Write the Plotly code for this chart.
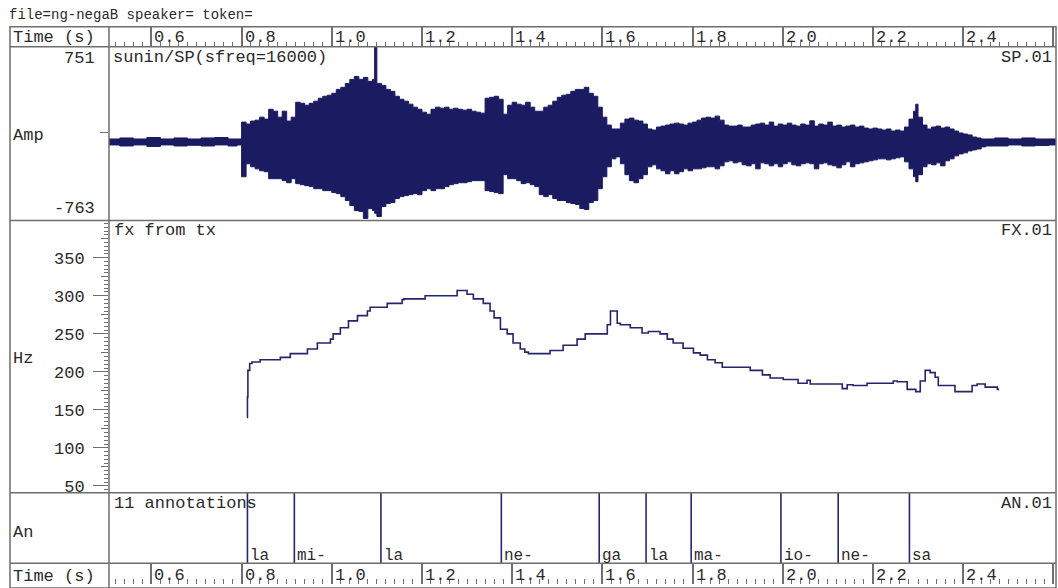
import plotly.graph_objects as go

# ---------------- data ----------------
title_text = "file=ng-negaB speaker= token="
time_ticks = [0.6, 0.8, 1.0, 1.2, 1.4, 1.6, 1.8, 2.0, 2.2, 2.4]
time_labels = ["0.6", "0.8", "1.0", "1.2", "1.4", "1.6", "1.8", "2.0", "2.2", "2.4"]
time_range = [0.506, 2.606]

# waveform envelope (s, amplitude)
wave_t = [0.506, 0.53, 0.56, 0.59, 0.62, 0.65, 0.68, 0.71, 0.74, 0.77, 0.79,
          0.80, 0.81, 0.82, 0.83, 0.84, 0.85, 0.86, 0.87, 0.88, 0.89,
          0.90, 0.91, 0.92, 0.93, 0.94, 0.95, 0.96, 0.97, 0.98, 0.99,
          1.00, 1.01, 1.02, 1.03, 1.04, 1.05, 1.06, 1.07, 1.08, 1.09, 1.095,
          1.10, 1.11, 1.12, 1.13, 1.14, 1.15, 1.16, 1.17, 1.18, 1.19,
          1.20, 1.21, 1.22, 1.23, 1.24, 1.25, 1.26, 1.27, 1.28, 1.29,
          1.30, 1.31, 1.32, 1.33, 1.34, 1.35, 1.36, 1.37, 1.38, 1.39,
          1.40, 1.41, 1.42, 1.43, 1.44, 1.45, 1.46, 1.47, 1.48, 1.49,
          1.50, 1.51, 1.52, 1.53, 1.54, 1.55, 1.56, 1.57, 1.58, 1.59,
          1.60, 1.61, 1.62, 1.63, 1.64, 1.65, 1.66, 1.67, 1.68, 1.69,
          1.70, 1.71, 1.72, 1.73, 1.74, 1.75, 1.76, 1.77, 1.78, 1.79,
          1.80, 1.81, 1.82, 1.83, 1.84, 1.85, 1.86, 1.87, 1.88, 1.89,
          1.90, 1.91, 1.92, 1.93, 1.94, 1.95, 1.96, 1.97, 1.98, 1.99,
          2.00, 2.01, 2.02, 2.03, 2.04, 2.05, 2.06, 2.07, 2.08, 2.09,
          2.10, 2.11, 2.12, 2.13, 2.14, 2.15, 2.16, 2.17, 2.18, 2.19,
          2.20, 2.21, 2.22, 2.23, 2.24, 2.25, 2.26, 2.27, 2.28, 2.29, 2.295,
          2.30, 2.31, 2.32, 2.33, 2.34, 2.35, 2.36, 2.37, 2.38, 2.39,
          2.40, 2.41, 2.42, 2.43, 2.44, 2.45, 2.47, 2.50, 2.53, 2.56, 2.59, 2.606]
wave_top = [-53, -44, -53, -40, -53, -44, -53, -44, -40, -53, -53,
            94, 77, 103, 111, 137, 120, 206, 189, 137, 189,
            103, 137, 267, 258, 241, 258, 276, 302, 319, 328,
            345, 379, 397, 431, 466, 492, 466, 483, 449, 466, 751,
            431, 414, 379, 362, 319, 293, 276, 250, 224, 206,
            180, 163, 206, 224, 215, 224, 206, 215, 206, 198,
            206, 189, 180, 172, 302, 310, 319, 293, 163, 241,
            267, 250, 241, 267, 224, 189, 189, 224, 241, 276,
            310, 328, 336, 362, 379, 379, 397, 345, 319, 224,
            137, 68, 34, 34, 85, 120, 129, 111, 103, 77,
            34, 25, 51, 59, 68, 77, 85, 77, 68, 85,
            94, 111, 129, 137, 129, 146, 111, 68, 59, 59,
            68, 51, 51, 68, 77, 85, 68, 94, 59, 77,
            68, 85, 68, 59, 77, 68, 105, 59, 77, 68,
            94, 59, 68, 51, 59, 68, 51, 59, 42, 34,
            42, 34, 25, 34, 16, 25, 16, 51, 120, 189, 250,
            137, 68, 34, 51, 59, 42, 51, 34, 16, -1,
            -10, -18, -36, -44, -53, -53, -44, -53, -44, -53, -53, -53]
wave_bot = [-105, -114, -105, -118, -105, -114, -108, -114, -105, -114, -105,
            -382, -269, -295, -313, -330, -338, -399, -399, -399, -416,
            -434, -399, -442, -451, -460, -468, -486, -486, -503, -503,
            -520, -529, -555, -589, -633, -676, -684, -745, -659, -676, -700,
            -728, -641, -615, -607, -572, -555, -546, -538, -529, -538,
            -503, -486, -503, -486, -486, -468, -451, -442, -434, -434,
            -425, -416, -416, -416, -503, -511, -520, -529, -364, -399,
            -399, -416, -442, -434, -451, -468, -538, -555, -538, -572,
            -589, -589, -607, -615, -624, -659, -667, -607, -589, -486,
            -382, -295, -226, -209, -269, -364, -416, -434, -399, -364,
            -295, -278, -313, -330, -356, -330, -356, -338, -313, -330,
            -313, -313, -304, -295, -295, -313, -287, -252, -243, -261,
            -252, -278, -287, -269, -313, -261, -269, -287, -269, -295,
            -269, -252, -278, -287, -269, -261, -269, -313, -269, -261,
            -278, -287, -304, -278, -252, -295, -269, -261, -252, -243,
            -235, -226, -226, -235, -226, -217, -209, -252, -313, -382, -425,
            -364, -295, -269, -278, -261, -287, -243, -226, -200, -183,
            -174, -157, -148, -140, -122, -114, -114, -105, -114, -110, -105, -105]

# fundamental frequency (s, Hz)
f0_t = [0.812, 0.813, 0.814, 0.818, 0.823, 0.841, 0.886, 0.908, 0.946, 0.968,
        0.997, 1.003, 1.019, 1.037, 1.057, 1.079, 1.085, 1.123, 1.156, 1.160,
        1.207, 1.278, 1.300, 1.314, 1.336, 1.351, 1.360, 1.374, 1.389, 1.402,
        1.418, 1.428, 1.436, 1.484, 1.513, 1.544, 1.562, 1.611, 1.618, 1.633,
        1.640, 1.662, 1.688, 1.702, 1.728, 1.744, 1.757, 1.779, 1.802, 1.817,
        1.833, 1.850, 1.866, 1.928, 1.955, 1.972, 2.001, 2.034, 2.054, 2.061,
        2.132, 2.143, 2.156, 2.187, 2.245, 2.254, 2.276, 2.295, 2.305, 2.316,
        2.327, 2.338, 2.345, 2.382, 2.420, 2.431, 2.449, 2.476, 2.480]
f0_hz = [140, 167, 202, 211, 213, 216, 219, 224, 230, 238,
         243, 250, 258, 267, 274, 280, 285, 290, 295, 296,
         300, 307, 302, 296, 290, 280, 271, 256, 250, 238,
         230, 226, 224, 228, 235, 243, 250, 262, 280, 264,
         262, 258, 251, 253, 250, 243, 238, 231, 225, 222,
         216, 212, 206, 202, 196, 192, 190, 185, 189, 184,
         178, 183, 182, 185, 188, 187, 177, 174, 188, 202,
         199, 193, 182, 174, 182, 184, 180, 177, 177]
hz_ticks = [50, 100, 150, 200, 250, 300, 350]
hz_labels = ["50", "100", "150", "200", "250", "300", "350"]
hz_mid_ticks = [75, 125, 175, 225, 275, 325, 375]
hz_range = [41.25, 399]
amp_range = [-763, 751]

# annotations (segment start times, s)
seg_t = [0.813, 0.917, 1.109, 1.376, 1.593, 1.697, 1.797, 1.996, 2.123, 2.281]
seg_labels = ["la", "mi-", "la", "ne-", "ga", "la", "ma-", "io-", "ne-", "sa"]

# ---------------- style ----------------
W, H = 1058, 588
FONT = "Liberation Mono"
FS = 17
TXT = "#2a2a2a"
FRAME = "#6e6e6e"
NAVY = "#1b1b62"


def px(p):
    return p / W


def py(p):
    return 1 - p / H


x_dom = [px(109), px(1056)]
dom_ruler_top = [py(47), py(27)]
dom_sp = [py(222), py(47)]
dom_fx = [py(496), py(222)]
dom_an = [py(567), py(496)]
dom_ruler_bot = [0, py(567)]

fig = go.Figure()

# waveform envelope
fig.add_trace(go.Scatter(x=wave_t, y=wave_top, mode="lines", line=dict(color=NAVY, width=1, shape="hv"),
                         xaxis="x", yaxis="y", hoverinfo="skip"))
fig.add_trace(go.Scatter(x=wave_t, y=wave_bot, mode="lines", line=dict(color=NAVY, width=1, shape="hv"),
                         fill="tonexty", fillcolor=NAVY, xaxis="x", yaxis="y", hoverinfo="skip"))

# F0
fig.add_trace(go.Scatter(x=f0_t, y=f0_hz, mode="lines", line=dict(color="#25256e", width=1.6, shape="hv"),
                         xaxis="x2", yaxis="y2", hoverinfo="skip"))
fig.add_trace(go.Scatter(x=[None], y=[None], xaxis="x2", yaxis="y6", hoverinfo="skip"))

# annotation boundaries
bx, by = [], []
for t in seg_t:
    bx += [t, t, None]
    by += [0, 1, None]
fig.add_trace(go.Scatter(x=bx, y=by, mode="lines", line=dict(color="#26267a", width=1.6),
                         xaxis="x3", yaxis="y3", hoverinfo="skip"))

hidden_x = dict(domain=x_dom, range=time_range, showgrid=False, zeroline=False, showticklabels=False,
                ticks="", showline=False)
ruler_x = dict(domain=x_dom, range=time_range, showgrid=True, gridcolor=FRAME, gridwidth=1.5,
               dtick=0.2, tick0=0, ticks="inside", ticklen=5, tickcolor=FRAME, tickwidth=1,
               showticklabels=False, zeroline=False, showline=False,
               minor=dict(dtick=0.02, tick0=0, ticks="inside", ticklen=5, tickcolor=FRAME,
                          tickwidth=1, showgrid=False))
plain_y = dict(range=[0, 1], showgrid=False, zeroline=False, showticklabels=False, ticks="", showline=False)

fig.update_layout(
    width=W, height=H, margin=dict(l=0, r=0, t=0, b=0),
    paper_bgcolor="white", plot_bgcolor="white", showlegend=False,
    font=dict(family=FONT, size=FS, color=TXT),
    xaxis=dict(hidden_x, anchor="y"),
    xaxis2=dict(hidden_x, anchor="y2"),
    xaxis3=dict(hidden_x, anchor="y3"),
    xaxis4=dict(ruler_x, anchor="y4", side="bottom"),
    xaxis5=dict(ruler_x, anchor="y5", side="bottom"),
    yaxis=dict(domain=dom_sp, range=amp_range, showgrid=False, zeroline=False, showline=False,
               tickvals=[0], ticks="outside", ticklen=8, tickcolor=FRAME, showticklabels=False, anchor="x"),
    yaxis2=dict(domain=dom_fx, range=hz_range, showgrid=False, zeroline=False, showline=False,
                tickvals=hz_ticks, ticktext=hz_labels, ticks="outside", ticklen=15, tickcolor=FRAME,
                tickwidth=1, ticklabelstandoff=5, tickfont=dict(family=FONT, size=FS, color=TXT),
                minor=dict(dtick=5, tick0=0, ticks="outside", ticklen=4, tickcolor=FRAME, tickwidth=1,
                           showgrid=False),
                anchor="x2"),
    yaxis6=dict(domain=dom_fx, range=hz_range, overlaying="y2", side="left", anchor="x2",
                showgrid=False, zeroline=False, showline=False, tickvals=hz_mid_ticks,
                ticks="outside", ticklen=7, tickcolor=FRAME, tickwidth=1, showticklabels=False),
    yaxis3=dict(plain_y, domain=dom_an, anchor="x3"),
    yaxis4=dict(plain_y, domain=dom_ruler_top, anchor="x4"),
    yaxis5=dict(plain_y, domain=dom_ruler_bot, anchor="x5"),
)

# frame
shapes = [dict(type="rect", xref="paper", yref="paper", x0=px(10), x1=px(1056), y0=py(592), y1=py(27),
               line=dict(color=FRAME, width=1.5))]
for yy in [47, 222, 496, 567]:
    shapes.append(dict(type="line", xref="paper", yref="paper", x0=px(10), x1=px(1056), y0=py(yy), y1=py(yy),
                       line=dict(color=FRAME, width=1.5)))
shapes.append(dict(type="line", xref="paper", yref="paper", x0=px(109), x1=px(109), y0=py(592), y1=py(27),
                   line=dict(color=FRAME, width=1.5)))
fig.update_layout(shapes=shapes)

ann = []


def label(text, x, y, xa="left", ya="middle", size=FS, xref="paper", yref="paper", xshift=0, yshift=0):
    ann.append(dict(text=text, x=x, y=y, xref=xref, yref=yref, xanchor=xa, yanchor=ya, showarrow=False,
                    font=dict(family=FONT, size=size, color=TXT), xshift=xshift, yshift=yshift,
                    borderpad=0))


label(title_text, px(8), py(15), size=14)
label("Time (s)", px(12), py(37), yshift=-1)
label("Time (s)", px(12), py(578), yshift=-2)
for v, s in zip(time_ticks, time_labels):
    label(s, v, py(27), xa="left", ya="top", xref="x4", xshift=2)
    label(s, v, py(567), xa="left", ya="top", xref="x5", xshift=2, yshift=-2)

label("Amp", px(12), py(134), yshift=-2)
label("Hz", px(12), py(358), yshift=-3)
label("An", px(12), py(533), yshift=-3)
label(str(amp_range[1]), px(96), amp_range[1], xa="right", ya="top", yref="y", yshift=-1)
label(str(amp_range[0]), px(96), amp_range[0], xa="right", ya="bottom", yref="y", yshift=1)

label("sunin/SP(sfreq=16000)", px(112), py(47), ya="top")
label("SP.01", px(1053), py(47), xa="right", ya="top")
label("fx from tx", px(113), py(222), ya="top")
label("FX.01", px(1053), py(222), xa="right", ya="top")
label("%d annotations" % (len(seg_t) + 1), px(113), py(496), ya="top")
label("AN.01", px(1053), py(496), xa="right", ya="top")

for t, s in zip(seg_t, seg_labels):
    label(s, t, 0, xa="left", ya="bottom", xref="x3", yref="y3", xshift=2, yshift=-3, size=FS - 1)

fig.update_layout(annotations=ann)

fig.write_html("out.html", config={"displayModeBar": False},
               post_script="document.body.style.margin='0';document.body.style.overflow='hidden';")
